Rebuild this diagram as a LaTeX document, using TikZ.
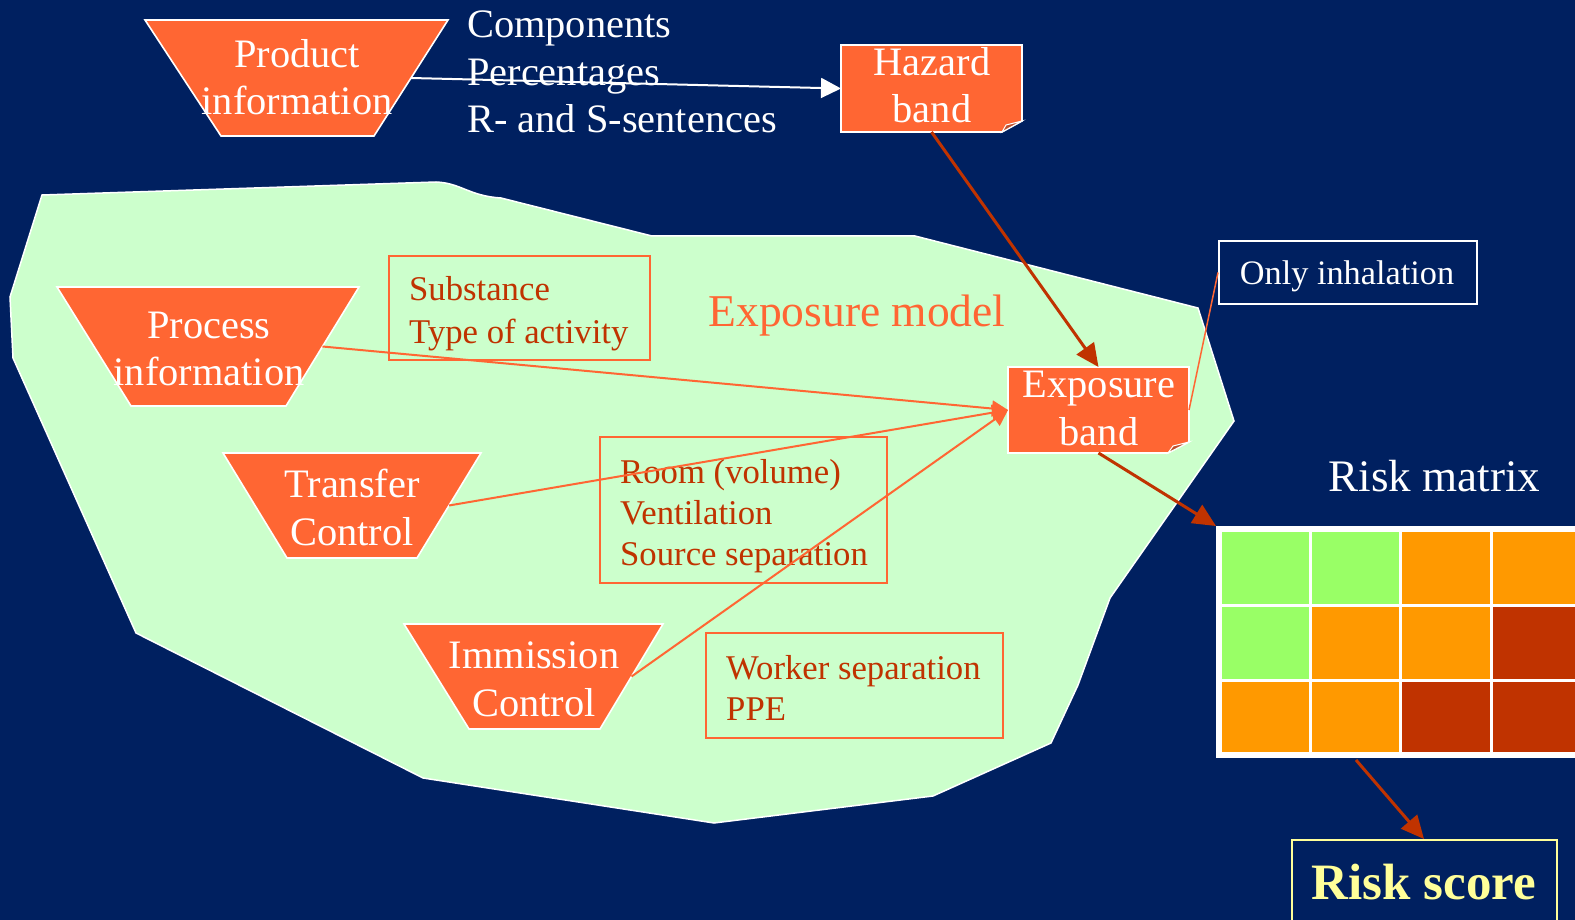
\documentclass[tikz,border=0pt]{standalone}
\usepackage{fontspec}
\setmainfont{Liberation Serif}
\usetikzlibrary{arrows.meta,calc}
\definecolor{navy}{RGB}{0,32,96}
\definecolor{mint}{RGB}{204,255,204}
\definecolor{orng}{RGB}{255,102,51}
\definecolor{rust}{RGB}{192,51,0}
\definecolor{foldc}{RGB}{190,80,45}
\definecolor{cgreen}{RGB}{153,255,102}
\definecolor{corange}{RGB}{255,153,0}
\definecolor{cred}{RGB}{192,51,0}
\definecolor{pyellow}{RGB}{255,255,153}
\begin{document}
\begin{tikzpicture}[x=1pt,y=-1pt,
  big/.style={font=\fontsize{40.4}{48}\selectfont, text=white, inner sep=0pt},
  small/.style={font=\fontsize{34.7}{41}\selectfont, text=rust, inner sep=0pt},
  trap/.style={fill=orng, draw=white, line width=1.6pt},
  frame/.style={draw=orng, line width=2pt, rectangle, inner sep=0pt, outer sep=0pt},
  band/.style={rectangle, inner sep=0pt, outer sep=0pt},
  bandshape/.style={fill=orng, draw=white, line width=1.6pt},
  foldshape/.style={fill=foldc, draw=white, line width=1pt},
  whitearrow/.style={draw=white, line width=2pt, -{Triangle[length=20pt,width=20pt]}},
  redarrow/.style={draw=rust, line width=3pt, -{Triangle[length=23pt,width=21pt]}},
  orangearrow/.style={draw=orng, line width=2pt, -{Triangle[length=16pt,width=16pt]}}
]
\useasboundingbox (0,0) rectangle (1575,920);
\fill[navy] (0,0) rectangle (1575,920);

% exposure model area
\filldraw[fill=mint, draw=white, line width=1.5pt]
  (42,195) -- (436,182) .. controls (461,183) and (469,196) .. (501,198)
  -- (652,236) -- (915,236) -- (1198,308) -- (1234,421) -- (1110,598)
  -- (1078,685) -- (1051,743) -- (933,796) -- (714,823) -- (423,778)
  -- (136,633) -- (13,358) -- (10,297) -- cycle;
\node[font=\fontsize{45.5}{54}\selectfont, text=orng, inner sep=0pt, anchor=base] (emodel) at (857,326) {Exposure model};

% framed lists
\node[frame, minimum width=261pt, minimum height=104pt] (subst) at (519.5,308) {};
\node[small, anchor=base west] (s1) at (409,301) {Substance};
\node[small, anchor=base west] (s2) at (409,343) {Type of activity};

\node[frame, minimum width=287pt, minimum height=146pt] (room) at (743.5,510) {};
\node[small, anchor=base west] (r1) at (620,483) {Room (volume)};
\node[small, anchor=base west] (r2) at (620,524) {Ventilation};
\node[small, anchor=base west] (r3) at (620,565) {Source separation};

\node[frame, minimum width=297pt, minimum height=105pt] (worker) at (854.5,685.5) {};
\node[small, anchor=base west] (w1) at (726,679) {Worker separation};
\node[small, anchor=base west] (w2) at (726,720) {PPE};

% product information
\filldraw[trap] (145,20) coordinate (pTL) -- (448,20) coordinate (pTR) -- (374,136) coordinate (pBR) -- (221,136) coordinate (pBL) -- cycle;
\coordinate (pinfoR) at ($(pTR)!0.5!(pBR)$);
\node[big, anchor=base] (p1) at (297,68) {Product};
\node[big, anchor=base] (p2) at (297,115) {information};
\node[big, anchor=base west] (c1) at (467,38) {Components};
\node[big, anchor=base west] (c2) at (467,85.5) {Percentages};
\node[big, anchor=base west] (c3) at (467,133) {R- and S-sentences};

% process information
\filldraw[trap] (57,287) -- (359,287) coordinate (qTR) -- (286,406) coordinate (qBR) -- (131,406) -- cycle;
\coordinate (procR) at ($(qTR)!0.5!(qBR)$);
\node[big, anchor=base] (q1) at (209,338) {Process};
\node[big, anchor=base] (q2) at (209,385) {information};

% transfer control
\filldraw[trap] (223,453) -- (481,453) coordinate (tTR) -- (417,558) coordinate (tBR) -- (287,558) -- cycle;
\coordinate (transR) at ($(tTR)!0.5!(tBR)$);
\node[big, anchor=base] (t1) at (352,497) {Transfer};
\node[big, anchor=base] (t2) at (352,545) {Control};

% immission control
\filldraw[trap] (404,624) -- (663,624) coordinate (iTR) -- (600,729) coordinate (iBR) -- (469,729) -- cycle;
\coordinate (immR) at ($(iTR)!0.5!(iBR)$);
\node[big, anchor=base] (i1) at (534,668) {Immission};
\node[big, anchor=base] (i2) at (534,716) {Control};

% hazard band
\node[band, minimum width=181pt, minimum height=87pt] (hazard) at (931.5,88.5) {};
\filldraw[bandshape] (hazard.north west) -- (hazard.north east) -- ($(hazard.south east)+(0,-11)$)
  -- ($(hazard.south east)+(-20,0)$) -- (hazard.south west) -- cycle;
\filldraw[foldshape] ($(hazard.south east)+(-20,0)$) -- ($(hazard.south east)+(-16,-7)$) -- ($(hazard.south east)+(0,-11)$) -- cycle;
\node[big, anchor=base] (h1) at (932,76) {Hazard};
\node[big, anchor=base] (h2) at (932,123) {band};

% exposure band
\node[band, minimum width=181pt, minimum height=86pt] (exposure) at (1098.5,410) {};
\filldraw[bandshape] (exposure.north west) -- (exposure.north east) -- ($(exposure.south east)+(0,-11)$)
  -- ($(exposure.south east)+(-21,0)$) -- (exposure.south west) -- cycle;
\filldraw[foldshape] ($(exposure.south east)+(-21,0)$) -- ($(exposure.south east)+(-16,-7)$) -- ($(exposure.south east)+(0,-11)$) -- cycle;
\node[big, anchor=base] (e1) at (1099,397) {Exposure};
\node[big, anchor=base] (e2) at (1099,445) {band};

% only inhalation
\node[draw=white, line width=2pt, fill=navy, rectangle, inner sep=0pt, minimum width=258pt, minimum height=63pt] (inhal) at (1348,272.5) {};
\node[font=\fontsize{34.3}{40}\selectfont, text=white, inner sep=0pt, anchor=base] (inhtxt) at (1347,284) {Only inhalation};

% risk matrix
\node[font=\fontsize{45.1}{52}\selectfont, text=white, inner sep=0pt, anchor=base] (rmtxt) at (1434.5,491) {Risk matrix};
\node[band, fill=white, minimum width=359pt, minimum height=232pt] (matrix) at (1395.5,642) {};
\fill[cgreen]  (1222,532) rectangle (1309,604);
\fill[cgreen]  (1312,532) rectangle (1399,604);
\fill[corange] (1402,532) rectangle (1490,604);
\fill[corange] (1493,532) rectangle (1575,604);
\fill[cgreen]  (1222,607) rectangle (1309,679);
\fill[corange] (1312,607) rectangle (1399,679);
\fill[corange] (1402,607) rectangle (1490,679);
\fill[cred]    (1493,607) rectangle (1575,679);
\fill[corange] (1222,682) rectangle (1309,752);
\fill[corange] (1312,682) rectangle (1399,752);
\fill[cred]    (1402,682) rectangle (1490,752);
\fill[cred]    (1493,682) rectangle (1575,752);
\coordinate (mbot) at ($(matrix.south west)+(140,2)$);

% risk score
\node[draw=pyellow, line width=2pt, rectangle, inner sep=0pt, minimum width=265pt, minimum height=100pt] (riskscore) at (1424,890) {};
\node[font=\fontsize{51}{60}\selectfont\bfseries, text=pyellow, inner sep=0pt, anchor=base] (rstxt) at (1424,899) {Risk score};

% connectors
\draw[whitearrow] (pinfoR) -- (hazard.west);
\draw[redarrow] (hazard.south) -- (exposure.north);
\draw[orangearrow] (procR) -- (exposure.west);
\draw[orangearrow] (transR) -- (exposure.west);
\draw[orangearrow] (immR) -- (exposure.west);
\draw[draw=orng, line width=1.5pt] (exposure.east) -- (inhal.west);
\draw[redarrow] (exposure.south) -- (matrix.north west);
\draw[redarrow] (mbot) -- (riskscore.north);
\end{tikzpicture}
\end{document}
